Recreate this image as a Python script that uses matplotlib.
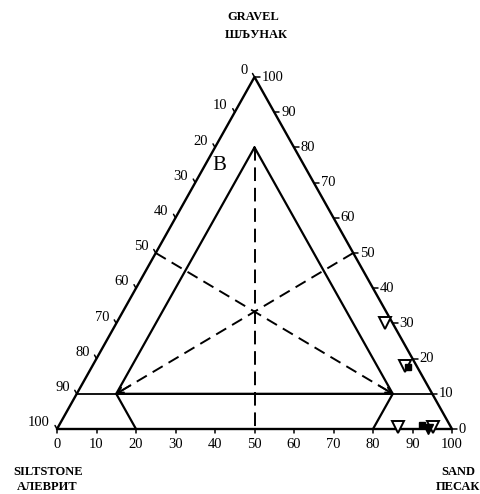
import numpy as np
import matplotlib
matplotlib.use("Agg")
import matplotlib.pyplot as plt

plt.rcParams['font.family'] = ['Liberation Serif', 'DejaVu Serif']

# ternary data: (gravel %, sand %); siltstone = 100 - gravel - sand
tick_values = [0, 10, 20, 30, 40, 50, 60, 70, 80, 90, 100]

# inner classification triangle: apex, left corner, right corner
inner_gravel = [80, 10, 10, 80]
inner_sand = [10, 10, 80, 10]

# lines from the 10% gravel corners down to the base
left_foot_gravel = [10, 0]
left_foot_sand = [10, 20]
right_foot_gravel = [10, 0]
right_foot_sand = [80, 80]

# dashed lines (start, end)
dash1_gravel = [50, 10]
dash1_sand = [0, 80]
dash2_gravel = [50, 10]
dash2_sand = [50, 10]
dash3_gravel = [80, 0]
dash3_sand = [10, 50]

# samples
open_tri_gravel = [30, 18, 0.5, 0.5]
open_tri_sand = [68, 79, 86, 95]
filled_sq_gravel = [17.6, 1]
filled_sq_sand = [80, 92]
filled_tri_gravel = [0]
filled_tri_sand = [94]


def tern(gravel, sand):
    gravel = np.asarray(gravel, dtype=float)
    sand = np.asarray(sand, dtype=float)
    return sand + gravel / 2, gravel


fig = plt.figure(figsize=(4.8, 4.94), dpi=100)
ax = fig.add_axes([57 / 480, 65 / 494, 395 / 480, 352 / 494])
ax.set_xlim(0, 100)
ax.set_ylim(0, 100)
ax.axis('off')

kw = dict(color='black', clip_on=False, solid_capstyle='round')

# outer triangle
x, y = tern([0, 0, 100, 0], [0, 100, 0, 0])
ax.plot(x, y, lw=1.7, **kw)

# 10% gravel line
x, y = tern([10, 10], [0, 90])
ax.plot(x, y, lw=1.3, **kw)

# inner triangle and feet
x, y = tern(inner_gravel, inner_sand)
ax.plot(x, y, lw=1.6, **kw)
x, y = tern(left_foot_gravel, left_foot_sand)
ax.plot(x, y, lw=1.6, **kw)
x, y = tern(right_foot_gravel, right_foot_sand)
ax.plot(x, y, lw=1.6, **kw)

# dashed lines
for g, s in [(dash1_gravel, dash1_sand), (dash2_gravel, dash2_sand)]:
    x, y = tern(g, s)
    ax.plot(x, y, lw=1.4, color='black', dashes=(6, 3.5), clip_on=False)
    ax.annotate('', xy=(x[1], y[1]),
                xytext=(x[1] + (x[0] - x[1]) * 0.06, y[1] + (y[0] - y[1]) * 0.06),
                arrowprops=dict(arrowstyle='->', lw=1.2, mutation_scale=10,
                                shrinkA=0, shrinkB=0))
x, y = tern(dash3_gravel, dash3_sand)
ax.plot(x, y, lw=1.4, color='black', dashes=(7, 3.5), clip_on=False)

# ticks and labels
fs = 10.5
for v in tick_values:
    # bottom axis: sand
    bx, by = tern(0, v)
    ax.plot([bx, bx], [by, by - 1.2], lw=1.1, **kw)
    ax.annotate(str(v), (bx, by), xytext=(0, -11), textcoords='offset points',
                ha='center', va='center', fontsize=fs)
    # right axis: gravel
    rx, ry = tern(v, 100 - v)
    ax.plot([rx, rx + 1.3], [ry, ry], lw=1.1, **kw)
    ax.annotate(str(v), (rx, ry), xytext=(5, 0), textcoords='offset points',
                ha='left', va='center', fontsize=fs)
    # left axis: siltstone
    lx, ly = tern(100 - v, 0)
    ax.plot([lx, lx - 0.5], [ly, ly + 1.0], lw=1.1, **kw)
    ax.annotate(str(v), (lx, ly), xytext=(-5, 4.5), textcoords='offset points',
                ha='right', va='center', fontsize=fs)

# samples
x, y = tern(open_tri_gravel, open_tri_sand)
ax.plot(x, y, 'v', ms=9, mfc='white', mec='black', mew=1.4, clip_on=False)
x, y = tern(filled_sq_gravel, filled_sq_sand)
ax.plot(x, y, 's', ms=5, color='black', clip_on=False)
x, y = tern(filled_tri_gravel, filled_tri_sand)
ax.plot(x, y, 'v', ms=7, color='black', clip_on=False)

ax.text(41, 75, 'B', fontsize=15, ha='center', va='center')

tkw = dict(ha='center', va='center', fontsize=9, fontweight='bold')
fig.text(0.527, 0.9656, 'GRAVEL', **tkw)
fig.text(0.533, 0.930, 'ШЉУНАК', **tkw)
fig.text(0.100, 0.0445, 'SILTSTONE', **tkw)
fig.text(0.098, 0.0142, 'АЛЕВРИТ', **tkw)
fig.text(0.954, 0.0445, 'SAND', **tkw)
fig.text(0.954, 0.0142, 'ПЕСАК', **tkw)

fig.savefig('out.png', dpi=100)
